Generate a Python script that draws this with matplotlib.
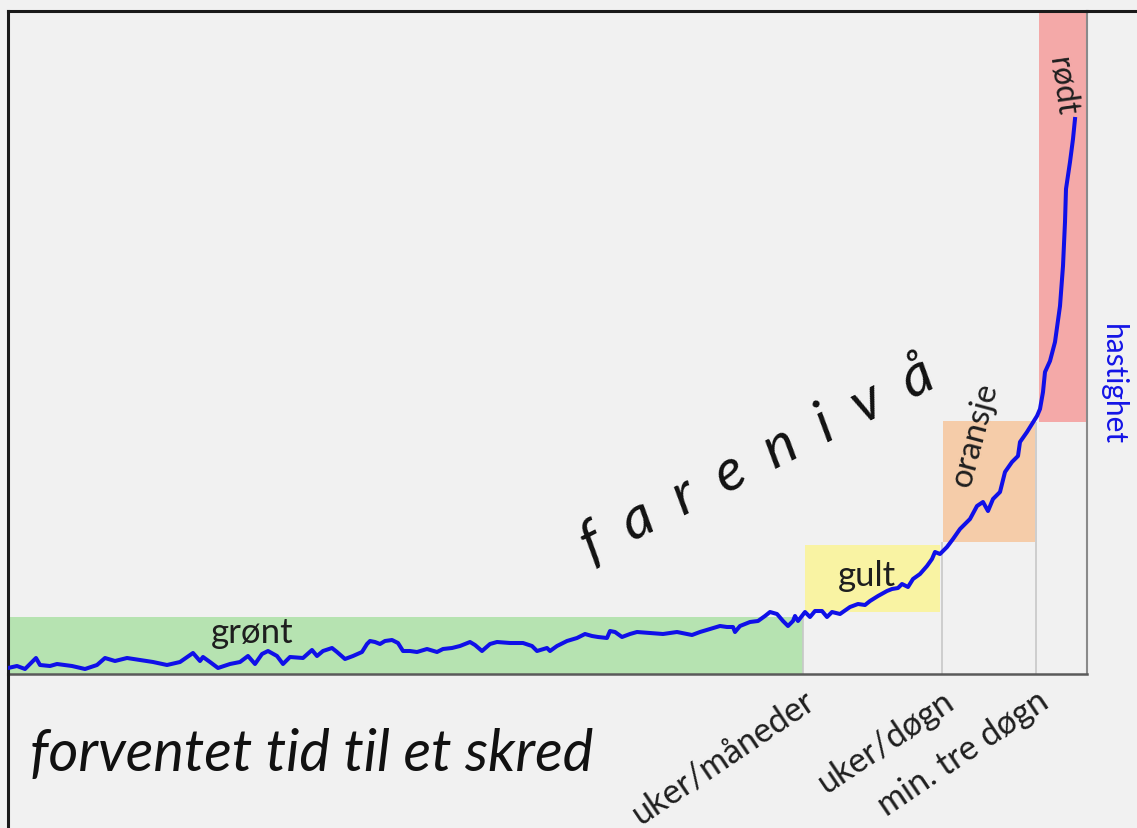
import matplotlib.pyplot as plt
from matplotlib.lines import Line2D

plt.rcParams['font.family'] = ['Lato', 'DejaVu Sans']

# blue "hastighet" curve (time units, speed units)
tid = [0, 9, 17, 28, 32, 42, 49, 64, 77, 89, 97, 107, 119, 132, 145, 159, 172, 185,
       192, 195, 202, 210, 222, 232, 240, 247, 254, 260, 269, 275, 282, 295, 304, 309,
       315, 324, 329, 337, 345, 354, 359, 362, 367, 372, 377, 384, 390, 395, 402, 409,
       419, 429, 435, 444, 452, 462, 467, 474, 482, 489, 502, 515, 524, 529, 539, 542,
       549, 559, 569, 577, 584, 590, 599, 602, 607, 614, 622, 629, 642, 655, 669, 684,
       692, 702, 712, 719, 725, 727, 732, 742, 750, 757, 762, 769, 775, 780, 785, 787,
       790, 797, 802, 807, 814, 819, 824, 832, 842, 850, 857, 862, 870, 879, 884, 890,
       894, 900, 905, 912, 919, 924, 927, 932, 939, 945, 952, 962, 969, 975, 980, 985,
       992, 997, 1004, 1010, 1012, 1019, 1024, 1029, 1032, 1035, 1037, 1042, 1047, 1052,
       1055, 1057, 1058, 1062, 1065, 1067]
hastighet = [6, 8, 5, 16, 9, 8, 10, 8, 5, 9, 16, 13, 16, 14, 12, 9, 12, 21,
             13, 17, 12, 6, 10, 12, 18, 10, 20, 23, 18, 10, 17, 16, 24, 18,
             23, 26, 22, 15, 18, 22, 30, 33, 32, 30, 33, 34, 31, 23, 23, 22,
             25, 22, 25, 26, 28, 32, 29, 23, 30, 32, 31, 31, 28, 23, 26, 23,
             28, 33, 36, 40, 38, 37, 36, 43, 42, 37, 40, 42, 41, 40, 42, 39,
             42, 45, 48, 47, 47, 42, 48, 52, 53, 58, 62, 60, 53, 48, 53, 58,
             53, 62, 57, 63, 63, 57, 62, 60, 67, 70, 69, 73, 78, 83, 85, 86,
             90, 87, 95, 100, 108, 115, 122, 120, 127, 135, 145, 155, 168, 172, 163, 175,
             182, 202, 212, 218, 232, 242, 250, 258, 265, 282, 302, 313, 332, 368,
             408, 452, 485, 512, 535, 555]

# farenivå bands: name, x from, x to, y from, y to
nivaa = ['grønt', 'gult', 'oransje', 'rødt']
band_x0 = [0, 797, 935, 1031]
band_x1 = [795, 932, 1027, 1078]
band_y0 = [0, 62, 132, 252]
band_y1 = [57, 129, 253, 663]
farger = ['#b6e3b1', '#f9f3a3', '#f5cca9', '#f4a9a8']

tick_pos = [795, 934, 1028]
tick_txt = ['uker/måneder', 'uker/døgn', 'min. tre døgn']

W, H = 1137, 829
fig = plt.figure(figsize=(W / 100, H / 100), dpi=100, facecolor='#f1f1f1')
ax = fig.add_axes([8 / W, (H - 675) / H, (1087 - 8) / W, (675 - 12) / H])
ax.set_facecolor('#f1f1f1')
ax.set_xlim(0, 1079)
ax.set_ylim(0, 663)

for i in range(len(nivaa)):
    ax.fill_between([band_x0[i], band_x1[i]], band_y0[i], band_y1[i],
                    color=farger[i], lw=0, zorder=1)

# thin grey separators under each band change
ax.vlines(tick_pos, 0, [band_y0[1], band_y0[2], band_y0[3]],
          color='#c8c8c8', lw=1.2, zorder=1.5)

ax.plot(tid, hastighet, color='#1010e8', lw=2.9, solid_joinstyle='round', zorder=3)

ax.text(244, 42, 'grønt', fontsize=25, ha='center', va='center', color='#1e1e1e')
ax.text(859, 99, 'gult', fontsize=25, ha='center', va='center', color='#1e1e1e')
ax.text(967, 240, 'oransje', fontsize=24, ha='center', va='center', rotation=75,
        color='#1e1e1e')
ax.text(1054, 588, 'rødt', fontsize=23, ha='center', va='center', rotation=-82,
        color='#1e1e1e')
ax.text(749, 215, 'f  a  r  e  n  i  v  å', fontsize=42, style='italic',
        ha='center', va='center', rotation=27, color='#111111')
ax.text(1105, 290, 'hastighet', fontsize=21.5, ha='center', va='center',
        rotation=-90, color='#1414e6', clip_on=False)
ax.text(22, -80, 'forventet tid til et skred', fontsize=41.5, style='italic',
        ha='left', va='center', color='#111111', clip_on=False)

ax.set_yticks([])
ax.set_xticks(tick_pos)
ax.set_xticklabels(tick_txt, rotation=34, ha='right', va='top',
                   rotation_mode='anchor', fontsize=24.5, color='#1e1e1e')
ax.tick_params(axis='x', length=0, pad=7)

ax.spines['top'].set_color('#1a1a1a')
ax.spines['top'].set_linewidth(2.2)
ax.spines['left'].set_color('#1a1a1a')
ax.spines['left'].set_linewidth(2.2)
ax.spines['bottom'].set_color('#5a5a5a')
ax.spines['bottom'].set_linewidth(1.8)
ax.spines['right'].set_color('#8a8a8a')
ax.spines['right'].set_linewidth(1.5)

# outer frame continues past the plot area
fig.add_artist(Line2D([1087 / W, 1], [1 - 12 / H] * 2, color='#1a1a1a', lw=2.2))
fig.add_artist(Line2D([8 / W] * 2, [0, (H - 675) / H], color='#1a1a1a', lw=2.2))

fig.savefig('out.png', dpi=100, facecolor=fig.get_facecolor())
